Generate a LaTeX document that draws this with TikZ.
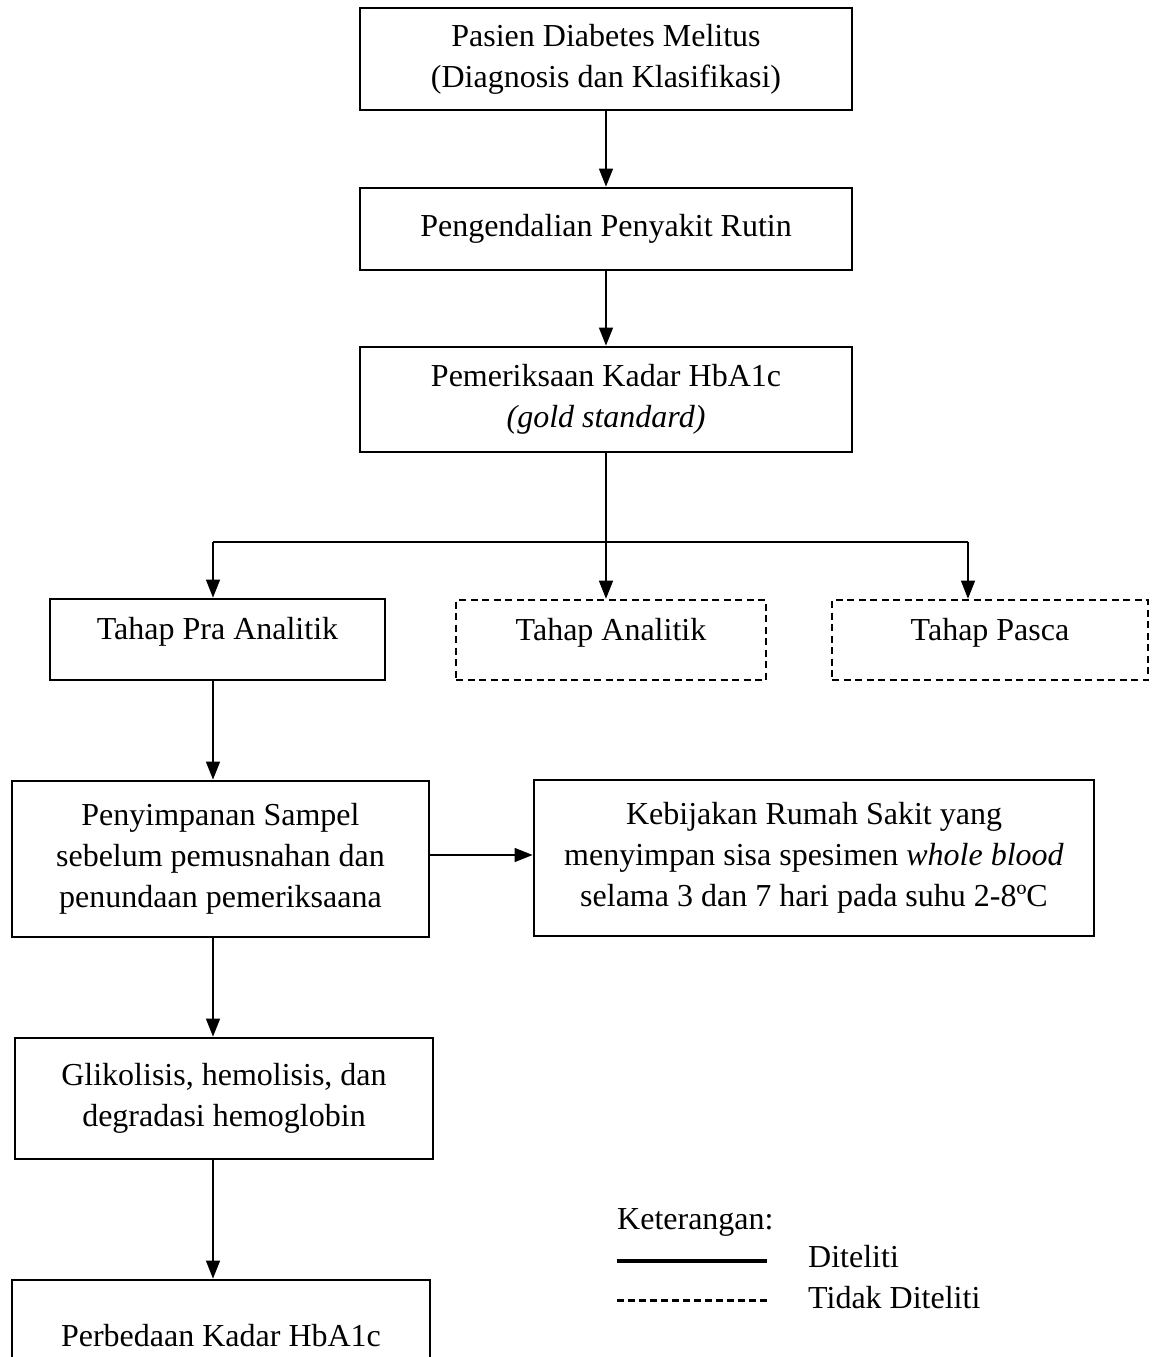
\documentclass[tikz,border=0pt]{standalone}
\usepackage{fontspec}
\setmainfont{Liberation Serif}
\usepackage{tikz}
\usetikzlibrary{arrows.meta, calc}
\tikzset{
	block/.style={rectangle, draw, line width=2.8pt, align=center, inner sep=0pt},
	dashblock/.style={block, line width=2.6pt, dash pattern=on 7pt off 4.5pt},
	arr/.style={line width=1.3pt, -{Triangle[length=18pt, width=14pt]}},
	plain/.style={line width=1.3pt}
}
\begin{document}
\begin{tikzpicture}[
        x=1pt, y=-1pt,
        font=\fontsize{32pt}{41pt}\selectfont
    ]
        \useasboundingbox (0,0) rectangle (1151,1357);

        \node[block, minimum width=492pt, minimum height=102pt] (pasien) at (606, 59) {Pasien Diabetes Melitus\\(Diagnosis dan Klasifikasi)};
        \node[block, minimum width=492pt, minimum height=82pt] (rutin) at (606, 229) {Pengendalian Penyakit Rutin};
        \node[block, minimum width=492pt, minimum height=105pt] (hba) at (606, 399.5) {Pemeriksaan Kadar HbA1c\\\textit{(gold standard)}};

        \node[block, minimum width=335pt, minimum height=81pt, text depth=22pt] (pra) at (217.5, 639.5) {Tahap Pra Analitik};
        \node[dashblock, minimum width=310pt, minimum height=80pt, text depth=22pt] (analitik) at (611, 640) {Tahap Analitik};
        \node[dashblock, minimum width=316pt, minimum height=80pt, text depth=22pt] (pasca) at (990, 640) {Tahap Pasca};

        \node[block, minimum width=417pt, minimum height=156pt] (simpan) at (220.5, 859) {Penyimpanan Sampel\\sebelum pemusnahan dan\\penundaan pemeriksaana};
        \node[block, minimum width=560pt, minimum height=156pt] (rs) at (814, 858) {Kebijakan Rumah Sakit yang\\menyimpan sisa spesimen \textit{whole blood}\\selama 3 dan 7 hari pada suhu 2-8ºC};
        \node[block, minimum width=418pt, minimum height=121pt] (gliko) at (224, 1098.5) {Glikolisis, hemolisis, dan\\degradasi hemoglobin};
        \node[block, minimum width=418pt, minimum height=112pt] (beda) at (221, 1336) {Perbedaan Kadar HbA1c};

        \coordinate (fork) at (606, 542);
        \coordinate (fork-l) at (213, 542);
        \coordinate (fork-r) at (968, 542);

        \draw[arr] (pasien) -- (rutin);
        \draw[arr] (rutin) -- (hba);
        \draw[plain] (hba.south) -- (fork);
        \draw[plain] (fork-l) -- (fork-r);
        \draw[arr] (fork-l) -- (fork-l |- pra.north);
        \draw[arr] (fork) -- (fork |- analitik.north);
        \draw[arr] (fork-r) -- (fork-r |- pasca.north);

        \draw[arr] (fork-l |- pra.south) -- (fork-l |- simpan.north);
        \draw[arr] ($(simpan.east)+(0,-4)$) -- ($(rs.west)+(0,-3)$);
        \draw[arr] (fork-l |- simpan.south) -- (fork-l |- gliko.north);
        \draw[arr] (fork-l |- gliko.south) -- (fork-l |- beda.north);

        % keterangan
        \node[anchor=west, inner sep=0pt] (ket) at (617, 1222) {Keterangan:};
        \node[anchor=west, inner sep=0pt] (diteliti) at (808, 1257) {Diteliti};
        \node[anchor=west, inner sep=0pt] (tidak) at (808, 1298) {Tidak Diteliti};
        \coordinate (solid-a) at (617, 1261);
        \coordinate (solid-b) at (767, 1261);
        \coordinate (dash-a) at (617, 1300);
        \coordinate (dash-b) at (770, 1300);
        \draw[line width=4pt] (solid-a) -- (solid-b);
        \draw[line width=3pt, dash pattern=on 7pt off 4pt] (dash-a) -- (dash-b);
    \end{tikzpicture}
\end{document}
